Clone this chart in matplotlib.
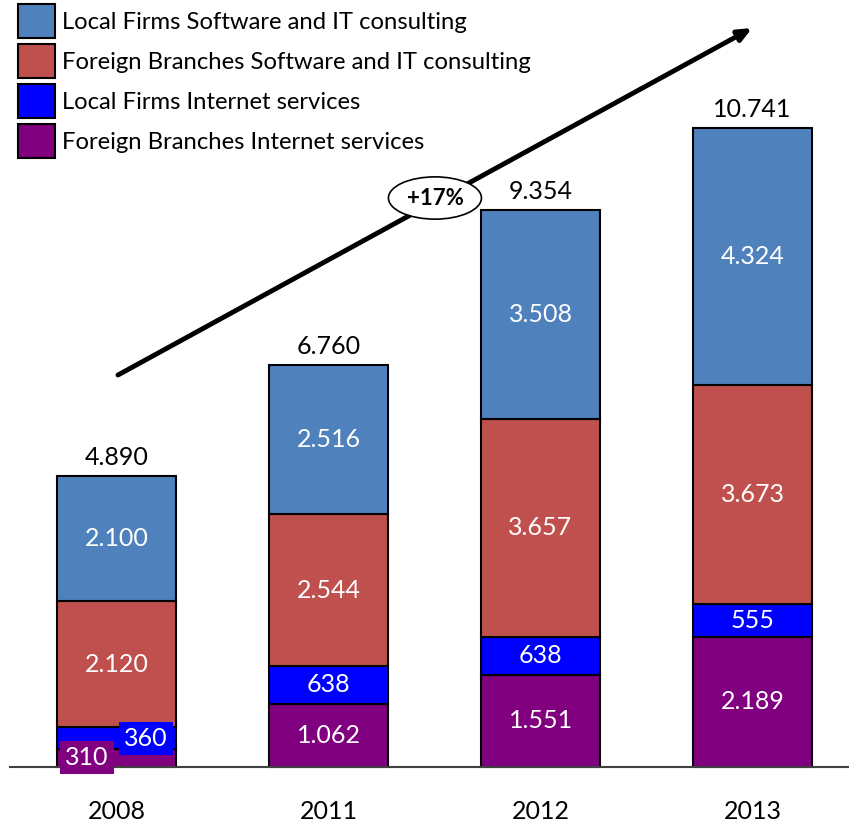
import matplotlib.pyplot as plt
from matplotlib.patches import Patch

# --- Data ---
years = ["2008", "2011", "2012", "2013"]
fb_internet = [310, 1062, 1551, 2189]
lf_internet = [360, 638, 638, 555]
fb_software = [2120, 2544, 3657, 3673]
lf_software = [2100, 2516, 3508, 4324]
totals = [4890, 6760, 9354, 10741]
growth_label = "+17%"

series = [
    ("Foreign Branches Internet services", fb_internet, "#800080"),
    ("Local Firms Internet services", lf_internet, "#0000FF"),
    ("Foreign Branches Software and IT consulting", fb_software, "#C0504D"),
    ("Local Firms Software and IT consulting", lf_software, "#4F81BD"),
]

plt.rcParams['font.family'] = ['Lato', 'DejaVu Sans']


def fmt(v):
    return f"{v:,}".replace(",", ".")


fig = plt.figure(figsize=(8.49, 8.26), dpi=100)
ax = fig.add_axes([0, 0, 1, 1])
ax.set_xlim(-0.5495, 3.455)
ax.set_ylim(-992, 12891)
ax.axis("off")

x = list(range(len(years)))
width = 0.56
bottom = [0] * len(years)
for name, vals, col in series:
    ax.bar(x, vals, width, bottom=bottom, color=col, edgecolor="black",
           linewidth=1.5, label=name, zorder=2)
    for i, v in enumerate(vals):
        if years[i] == "2008" and v < 500:
            continue
        ax.text(x[i], bottom[i] + v / 2, fmt(v), ha="center", va="center",
                color="white", fontsize=18, zorder=4)
    bottom = [b + v for b, v in zip(bottom, vals)]

# small 2008 segments labelled with boxes
ax.text(-0.139, 160, fmt(fb_internet[0]), ha="center", va="center",
        color="white", fontsize=18, zorder=5,
        bbox=dict(boxstyle="square,pad=0.2", facecolor="#800080", edgecolor="none"))
ax.text(0.139, 487, fmt(lf_internet[0]), ha="center",
        va="center", color="white", fontsize=18, zorder=5,
        bbox=dict(boxstyle="square,pad=0.2", facecolor="#0000FF", edgecolor="none"))

# totals
for i, t in enumerate(totals):
    ax.annotate(fmt(t), (x[i], t), xytext=(0, 5), textcoords="offset points",
                ha="center", va="bottom", fontsize=18, color="black")

# baseline
ax.plot([-0.502, 3.455], [0, 0], color="#404040", linewidth=1.5, zorder=3)

# year labels
for i, y in enumerate(years):
    ax.text(x[i], -756, y, ha="center", va="center", fontsize=18)

# growth arrow
ax.annotate("", xy=(2.998, 12420), xytext=(0.007, 6588),
            arrowprops=dict(arrowstyle="-|>,head_length=0.8,head_width=0.35",
                            color="black", linewidth=3.5, shrinkA=0, shrinkB=0))
ax.text(1.502, 9563, growth_label, ha="center", va="center", fontsize=16,
        fontweight="bold", zorder=6,
        bbox=dict(boxstyle="ellipse,pad=0.2", facecolor="white", edgecolor="black",
                  linewidth=1.2))

# legend
handles = [Patch(facecolor=c, edgecolor="black", linewidth=1.5) for _, _, c in series][::-1]
labels = [n for n, _, _ in series][::-1]
fig.legend(handles, labels, loc="upper left", bbox_to_anchor=(18 / 849, 1 - 4 / 826),
           frameon=False, fontsize=17.2, handlelength=1.55, handleheight=1.8,
           labelspacing=0.26, handletextpad=0.3, borderpad=0, borderaxespad=0)

fig.savefig("out.png", dpi=100)
